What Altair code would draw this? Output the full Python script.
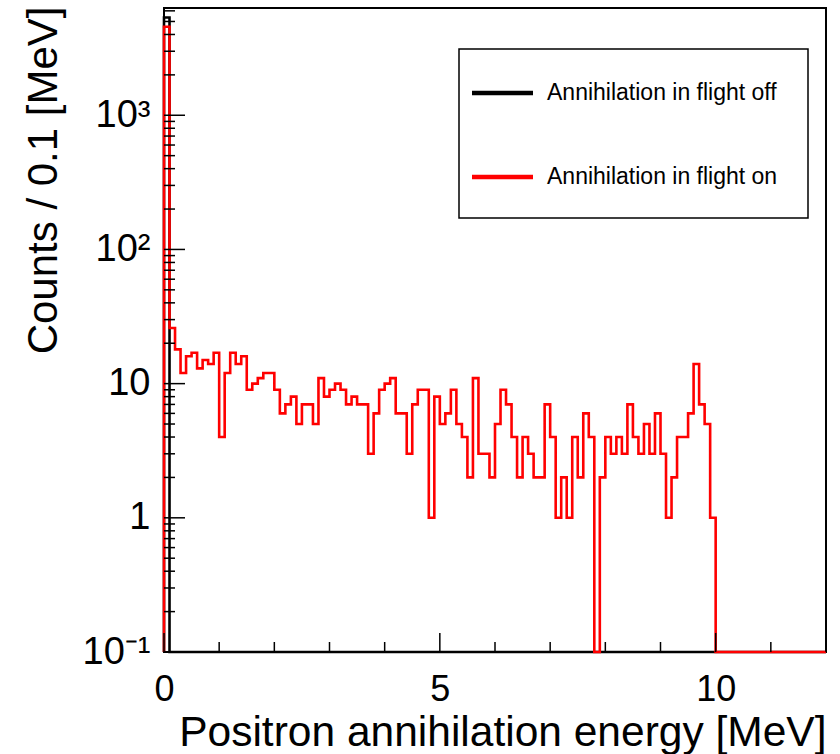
import altair as alt
import pandas as pd

# Histogram binning (MeV)
bin_width = 0.1
x_max = 12.0

# Counts per 0.1 MeV bin, 120 bins from 0 to 12 MeV
counts_on = [
    4570, 26, 18, 12, 16, 17, 13, 15, 14, 17,
    4, 12, 17, 14, 16, 9, 10, 11, 12, 12,
    9, 6, 7, 8, 5, 7, 7, 5, 11, 8,
    9, 10, 9, 7, 8, 7, 7, 3, 6, 9,
    10, 11, 6, 6, 3, 7, 9, 9, 1, 8,
    5, 6, 9, 5, 4, 2, 11, 3, 3, 2,
    5, 9, 7, 4, 2, 4, 3, 2, 2, 7,
    4, 1, 2, 1, 4, 2, 6, 4, 0, 2,
    4, 3, 4, 3, 7, 4, 3, 5, 3, 6,
    3, 1, 2, 4, 4, 6, 14, 7, 5, 1,
    0, 0, 0, 0, 0, 0, 0, 0, 0, 0,
    0, 0, 0, 0, 0, 0, 0, 0, 0, 0,
]
counts_off = [5350] + [0] * 119

series_names = ["Annihilation in flight off", "Annihilation in flight on"]
series_colors = ["#000000", "#ff0000"]

# Axis settings
x_major = [0, 5, 10]
x_minor = [1, 2, 3, 4, 6, 7, 8, 9, 11, 12]
y_min, y_max = 0.1, 6300
y_major = [0.1, 1, 10, 100, 1000]
y_major_labels = ["10⁻¹", "1", "10", "10²", "10³"]

FONT = "Liberation Sans"
W, H = 662, 644


def step_outline(counts, floor):
    """Histogram outline as an ordered polyline; empty bins sit on the floor."""
    pts = [(0.0, floor)]
    for i, c in enumerate(counts):
        y = max(c, floor)
        pts.append((round(i * bin_width, 4), y))
        pts.append((round((i + 1) * bin_width, 4), y))
    pts.append((x_max, floor))
    return pd.DataFrame({"x": [p[0] for p in pts], "y": [p[1] for p in pts],
                         "i": list(range(len(pts)))})


x_scale = alt.Scale(domain=[0, x_max], nice=False, zero=False)
y_scale = alt.Scale(type="log", domain=[y_min, y_max], nice=False)

label_expr = " : ".join(
    f"datum.value == {v} ? '{t}'" for v, t in zip(y_major, y_major_labels)
) + " : ''"

x_axis = alt.Axis(
    values=x_major, title="Positron annihilation energy [MeV]",
    labelFont=FONT, titleFont=FONT, labelFontSize=36, titleFontSize=42.5,
    titleFontWeight="normal", labelColor="black", titleColor="black",
    ticks=False, domain=False, grid=False, labelFlush=False, labelOverlap=False,
    labelPadding=20, titleAlign="right", titleX=W, titleY=93,
    titleBaseline="alphabetic", titleAnchor="end",
)
y_axis = alt.Axis(
    values=y_major, labelExpr=label_expr, title="Counts / 0.1 [MeV]",
    labelFont=FONT, titleFont=FONT, labelFontSize=38, titleFontSize=42,
    titleFontWeight="normal", labelColor="black", titleColor="black",
    ticks=False, domain=False, grid=False, labelOverlap=False, labelFlush=False,
    labelPadding=14, titleAngle=270, titleAlign="right", titleX=-108, titleY=-2,
    titleBaseline="alphabetic", titleAnchor="end",
)

layers = []

# Histogram outlines: "off" first, "on" drawn over it
for counts, color in [(counts_off, series_colors[0]), (counts_on, series_colors[1])]:
    df = step_outline(counts, y_min)
    layers.append(
        alt.Chart(df).mark_line(color=color, strokeWidth=2.6).encode(
            x=alt.X("x:Q", scale=x_scale, axis=x_axis),
            y=alt.Y("y:Q", scale=y_scale, axis=y_axis),
            order="i:Q",
        )
    )

# Inward tick marks on the left axis
y_minor = [d * k for d in [0.1, 1, 10, 100, 1000] for k in range(2, 10) if d * k < y_max]
for vals, length in [(y_major, 21), (y_minor, 11)]:
    layers.append(
        alt.Chart(pd.DataFrame({"v": vals})).mark_rule(color="black", strokeWidth=1.5)
        .encode(y=alt.Y("v:Q", scale=y_scale, axis=y_axis),
                x=alt.value(0), x2=alt.value(length))
    )

# Inward tick marks on the bottom axis
for vals, length in [(x_major, 19), (x_minor, 10)]:
    layers.append(
        alt.Chart(pd.DataFrame({"v": vals})).mark_rule(color="black", strokeWidth=1.5)
        .encode(x=alt.X("v:Q", scale=x_scale, axis=x_axis),
                y=alt.value(H), y2=alt.value(H - length))
    )

# Legend box
one = alt.Data(values=[{}])
layers.append(
    alt.Chart(one).mark_rect(fill="white", stroke="black", strokeWidth=1.5)
    .encode(x=alt.value(295), x2=alt.value(644), y=alt.value(41), y2=alt.value(210))
)
for k, (name, color) in enumerate(zip(series_names, series_colors)):
    row_y = 85 + 84 * k
    layers.append(
        alt.Chart(one).mark_rule(color=color, strokeWidth=4.5)
        .encode(x=alt.value(308), x2=alt.value(369), y=alt.value(row_y))
    )
    layers.append(
        alt.Chart(one).mark_text(text=name, font=FONT, fontSize=23, align="left",
                                 baseline="middle", color="black")
        .encode(x=alt.value(383), y=alt.value(row_y))
    )

chart = (
    alt.layer(*layers)
    .properties(width=W, height=H, autosize=alt.AutoSizeParams(type="none"),
                padding={"left": 164, "top": 8, "right": 14, "bottom": 102})
    .configure(background="white")
    .configure_view(stroke="black", strokeWidth=2, fill="white")
)

chart.save("out.html", embed_options={"renderer": "svg", "actions": False})
